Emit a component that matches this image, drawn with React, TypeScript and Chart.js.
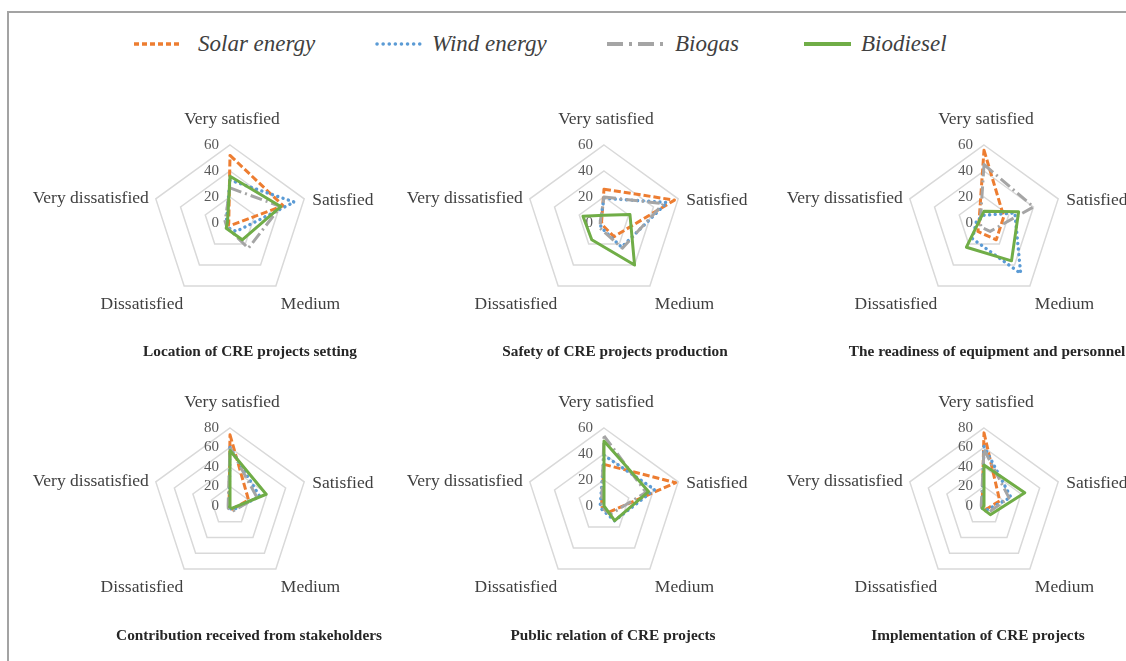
import React, { useEffect, useRef } from 'react';
import { Chart, registerables } from 'chart.js';

Chart.register(...registerables);

// ---------- data ----------
const categories = ['Very satisfied', 'Satisfied', 'Medium', 'Dissatisfied', 'Very dissatisfied'];
const seriesNames = ['Solar energy', 'Wind energy', 'Biogas', 'Biodiesel'];
const chartTitles = [
  'Location of CRE projects setting',
  'Safety of CRE projects production',
  'The readiness of equipment and personnel',
  'Contribution received from stakeholders',
  'Public relation of CRE projects',
  'Implementation of CRE projects',
];
const axisMax = [60, 60, 60, 80, 60, 80];
const tickStep = 20;

// one row per chart, values in category order
const solarEnergy = [
  [52, 43, 2, 2, 1],
  [26, 57, 13, 2, 2],
  [56, 16, 16, 8, 4],
  [73, 20, 4, 2, 1],
  [32, 58, 6, 2, 2],
  [75, 17, 4, 2, 2],
];
const windEnergy = [
  [33, 52, 8, 4, 3],
  [19, 51, 23, 4, 3],
  [6, 25, 48, 15, 6],
  [60, 32, 5, 2, 1],
  [39, 41, 14, 3, 3],
  [61, 29, 5, 3, 2],
];
const biogas = [
  [27, 41, 24, 4, 4],
  [20, 48, 24, 5, 3],
  [45, 40, 8, 4, 3],
  [60, 29, 6, 3, 2],
  [54, 34, 8, 2, 2],
  [58, 27, 8, 4, 3],
];
const biodiesel = [
  [36, 41, 16, 5, 2],
  [6, 21, 40, 16, 17],
  [9, 28, 36, 23, 4],
  [57, 39, 3, 1, 0],
  [50, 36, 14, 0, 0],
  [42, 44, 11, 3, 0],
];

// ---------- styles ----------
const SERIF = '"Liberation Serif", "Times New Roman", serif';
const COLORS = ['#ED7D31', '#5B9BD5', '#A5A5A5', '#70AD47'];
const DASHES: number[][] = [[7, 3], [0.1, 5.5], [12, 4, 2, 4], []];
const CAPS = ['butt', 'round', 'butt', 'butt'];
const WIDTHS = [3, 3.4, 3, 3];
const ORDERS = [4, 3, 2, 1];

const R = 78;
const CW = 380;
const CH = 260;
const OX = 215;
const OY = 130;
const centersX = [230, 604, 984];
const centersY = [223, 506];
const titleX = [250, 615, 987, 249, 613, 978];
const titleY = [351, 351, 351, 635, 635, 635];

const LABEL_POS = [
  { align: 'center', dx: 2, dy: -26 },
  { align: 'left', dx: 8, dy: 2 },
  { align: 'left', dx: 5, dy: 18 },
  { align: 'right', dx: -1, dy: 18 },
  { align: 'right', dx: -7, dy: 0 },
];

const labelPlugin = {
  id: 'radarLabels',
  beforeDatasetsDraw(chart: any) {
    const s = chart.scales.r;
    const ctx = chart.ctx;
    ctx.save();
    ctx.font = `15px ${SERIF}`;
    ctx.fillStyle = '#595959';
    ctx.textAlign = 'right';
    ctx.textBaseline = 'middle';
    s.ticks.forEach((t: any) => {
      const d = s.getDistanceFromCenterForValue(t.value);
      ctx.fillText(String(t.value), s.xCenter - 11, s.yCenter - d);
    });
    ctx.restore();
  },
  afterDraw(chart: any) {
    const s = chart.scales.r;
    const ctx = chart.ctx;
    ctx.save();
    ctx.font = `17.5px ${SERIF}`;
    ctx.fillStyle = '#404040';
    ctx.textBaseline = 'middle';
    categories.forEach((c, i) => {
      const p = s.getPointPosition(i, s.drawingArea);
      const o = LABEL_POS[i];
      ctx.textAlign = o.align;
      ctx.fillText(c, p.x + o.dx, p.y + o.dy);
    });
    ctx.restore();
  },
};

function RadarCanvas({ idx }: { idx: number }) {
  const ref = useRef<HTMLCanvasElement | null>(null);
  useEffect(() => {
    if (!ref.current) return;
    const all = [solarEnergy, windEnergy, biogas, biodiesel];
    const chart = new Chart(ref.current, {
      type: 'radar',
      data: {
        labels: categories,
        datasets: seriesNames.map((name, k) => ({
          label: name,
          data: all[k][idx],
          borderColor: COLORS[k],
          backgroundColor: 'rgba(0,0,0,0)',
          borderWidth: WIDTHS[k],
          borderDash: DASHES[k],
          borderCapStyle: CAPS[k] as any,
          borderJoinStyle: 'round' as any,
          pointRadius: 0,
          pointHoverRadius: 0,
          fill: false,
          tension: 0,
          order: ORDERS[k],
        })),
      },
      options: {
        responsive: false,
        animation: false,
        events: [],
        layout: {
          padding: { left: OX - R, right: CW - OX - R, top: OY - R, bottom: CH - OY - R },
        },
        plugins: { legend: { display: false }, title: { display: false }, tooltip: { enabled: false } },
        scales: {
          r: {
            min: 0,
            max: axisMax[idx],
            ticks: { display: false, stepSize: tickStep },
            pointLabels: { display: false },
            angleLines: { display: false },
            grid: { color: '#D9D9D9', lineWidth: 1.5, circular: false },
          },
        },
      },
      plugins: [labelPlugin],
    });
    return () => chart.destroy();
  }, [idx]);
  const cx = centersX[idx % 3];
  const cy = centersY[Math.floor(idx / 3)];
  return (
    <canvas
      ref={ref}
      width={CW}
      height={CH}
      style={{ position: 'absolute', left: cx - OX, top: cy - OY, width: CW, height: CH }}
    />
  );
}

const legendItems = [
  { line: [134, 182], text: 198, dash: '5 3', cap: 'butt', w: 3.5 },
  { line: [377, 425], text: 432, dash: '0.1 6', cap: 'round', w: 3.5 },
  { line: [607, 664], text: 675, dash: '16 6 3 6', cap: 'butt', w: 4 },
  { line: [804, 851], text: 861, dash: '', cap: 'butt', w: 4 },
];

export default function App() {
  return (
    <div
      style={{
        position: 'absolute',
        left: 0,
        top: 0,
        width: 1126,
        height: 661,
        background: '#fff',
        overflow: 'hidden',
        fontFamily: SERIF,
      }}
    >
      <div
        style={{
          position: 'absolute',
          left: 7,
          top: 11,
          width: 1130,
          height: 700,
          borderTop: '2px solid #A3A3A3',
          borderLeft: '2px solid #A3A3A3',
        }}
      />
      <svg width={1126} height={80} style={{ position: 'absolute', left: 0, top: 0 }}>
        {legendItems.map((it, k) => (
          <line
            key={k}
            x1={it.line[0]}
            x2={it.line[1]}
            y1={44}
            y2={44}
            stroke={COLORS[k]}
            strokeWidth={it.w}
            strokeDasharray={it.dash || undefined}
            strokeLinecap={it.cap as any}
          />
        ))}
      </svg>
      {legendItems.map((it, k) => (
        <div
          key={k}
          style={{
            position: 'absolute',
            left: it.text,
            top: 29,
            height: 30,
            lineHeight: '30px',
            fontSize: 23,
            fontStyle: 'italic',
            color: '#404040',
            whiteSpace: 'nowrap',
          }}
        >
          {seriesNames[k]}
        </div>
      ))}
      {[0, 1, 2, 3, 4, 5].map((i) => (
        <RadarCanvas key={i} idx={i} />
      ))}
      {chartTitles.map((t, i) => (
        <div
          key={i}
          style={{
            position: 'absolute',
            left: titleX[i] - 200,
            top: titleY[i] - 10,
            width: 400,
            textAlign: 'center',
            fontSize: 15.3,
            fontWeight: 'bold',
            lineHeight: '20px',
            color: '#262626',
            whiteSpace: 'nowrap',
          }}
        >
          {t}
        </div>
      ))}
    </div>
  );
}
